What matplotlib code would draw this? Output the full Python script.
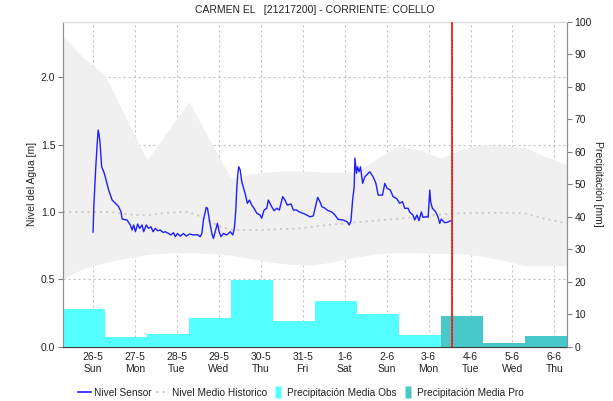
import numpy as np
import pandas as pd
import matplotlib
matplotlib.use("Agg")
import matplotlib.pyplot as plt
from matplotlib.lines import Line2D
from matplotlib.path import Path

plt.rcParams["font.family"] = ["Liberation Sans", "DejaVu Sans"]

# Reference instant: all hour offsets below are counted from here
T0 = pd.Timestamp("2024-05-26 00:00")
X_START = pd.Timestamp("2024-05-25 07:00")
X_END = pd.Timestamp("2024-06-06 07:00")
NOW = pd.Timestamp("2024-06-03 13:36")

TITLE = "CARMEN EL   [21217200] - CORRIENTE: COELLO"

# Sensor water level [m]
sensor_hours = [0.2, 0.6, 1.7, 2.5, 3.1, 3.7, 4.2, 4.6, 5.1, 6.3, 7.4, 9.1, 11.1, 13.0, 14.8,
                16.2, 16.8, 19.6, 21.5, 22.5, 23.4, 24.4, 25.7, 26.8, 28.2, 29.1, 30.6, 31.9,
                33.3, 34.5, 35.8, 37.1, 38.6, 40.2, 41.5, 43.4, 44.7, 46.2, 47.2, 48.5, 50.0,
                51.9, 53.5, 55.3, 57.6, 59.9, 61.4, 62.4, 63.3, 64.9, 65.6, 66.7, 68.1, 69.0,
                70.0, 71.3, 72.3, 73.3, 74.7, 76.7, 78.6, 80.1, 81.0, 81.8, 82.4, 83.0, 83.5,
                84.3, 85.2, 87.1, 88.4, 89.6, 90.9, 92.2, 93.8, 95.7, 96.6, 98.0, 99.5, 100.4,
                102.3, 103.7, 105.2, 106.7, 108.6, 109.9, 111.2, 113.4, 114.7, 116.6, 118.1,
                121.3, 124.2, 126.1, 127.6, 128.6, 129.9, 131.0, 132.8, 134.6, 136.6, 138.5,
                140.3, 143.2, 145.5, 146.6, 147.6, 148.6, 149.5, 149.9, 150.8, 151.4, 152.3,
                153.1, 154.3, 155.6, 158.4, 160.3, 161.9, 163.2, 165.7, 167.0, 168.3, 170.2,
                171.7, 173.7, 175.5, 177.1, 178.4, 180.3, 181.2, 183.1, 184.1, 185.4, 186.5,
                187.9, 188.8, 190.8, 191.8, 192.7, 193.2, 194.2, 196.1, 197.4, 198.4, 199.3,
                201.2, 202.5, 204.1, 205.2]
sensor_level = [0.851, 1.034, 1.323, 1.496, 1.607, 1.570, 1.509, 1.435, 1.335, 1.298, 1.249,
                1.162, 1.088, 1.064, 1.039, 1.000, 0.947, 0.940, 0.903, 0.866, 0.903, 0.853,
                0.910, 0.878, 0.903, 0.853, 0.903, 0.878, 0.890, 0.853, 0.878, 0.860, 0.866,
                0.848, 0.853, 0.840, 0.829, 0.846, 0.816, 0.840, 0.820, 0.840, 0.820, 0.836,
                0.829, 0.831, 0.816, 0.840, 0.940, 1.034, 1.027, 0.940, 0.840, 0.804, 0.853,
                0.915, 0.853, 0.816, 0.840, 0.829, 0.853, 0.829, 0.878, 1.014, 1.187, 1.286,
                1.335, 1.311, 1.224, 1.138, 1.064, 1.088, 1.051, 1.027, 0.990, 0.977, 0.953,
                1.014, 1.027, 1.088, 1.039, 1.009, 1.027, 1.014, 1.113, 1.088, 1.051, 1.059,
                1.014, 1.014, 1.000, 0.984, 0.964, 0.970, 1.051, 1.108, 1.076, 1.039, 1.027,
                1.009, 1.000, 0.977, 0.945, 0.940, 0.927, 0.903, 0.930, 1.088, 1.187, 1.400,
                1.286, 1.335, 1.298, 1.335, 1.212, 1.261, 1.298, 1.261, 1.212, 1.125, 1.125,
                1.212, 1.175, 1.162, 1.113, 1.100, 1.064, 1.076, 1.027, 1.027, 1.000, 0.977,
                0.940, 0.977, 0.935, 1.000, 0.960, 0.964, 0.960, 1.162, 1.076, 1.027, 1.000,
                0.964, 0.915, 0.947, 0.920, 0.922, 0.932, 0.932]

# Historical mean level [m]
mean_hours = [-17, 10.1, 18.7, 25.3, 32.9, 42.4, 53.9, 59.6, 67.1, 72.9, 80.4, 95.7, 118.5,
              133.9, 158.4, 175.5, 192.6, 209.7, 232.5, 246.8, 258.2, 271]
mean_level = [1.000, 1.000, 0.985, 0.977, 0.977, 0.994, 1.000, 0.977, 0.927, 0.890, 0.866,
              0.866, 0.878, 0.903, 0.932, 0.950, 0.975, 0.990, 0.995, 0.990, 0.950, 0.915]

# Historical envelope (max / min) [m], every 12 h
band_hours = [-17, -5, 7, 19, 31, 43, 55, 67, 79, 91, 103, 115, 127, 139, 151, 163, 175,
              187, 199, 211, 223, 235, 247, 259, 271]
band_max = [2.30, 2.14, 2.015, 1.70, 1.385, 1.60, 1.818, 1.53, 1.249, 1.285, 1.30, 1.305,
            1.30, 1.29, 1.30, 1.40, 1.49, 1.46, 1.40, 1.465, 1.50, 1.49, 1.48, 1.41, 1.35]
band_min = [0.507, 0.582, 0.625, 0.655, 0.685, 0.695, 0.697, 0.692, 0.680, 0.650, 0.625,
            0.608, 0.606, 0.635, 0.665, 0.690, 0.697, 0.695, 0.693, 0.689, 0.670, 0.640,
            0.600, 0.600, 0.600]

# Daily precipitation [mm], days running 07:00 to 07:00
obs_start = pd.date_range("2024-05-25 07:00", periods=9, freq="D")
precip_obs = [11.5, 3.1, 3.9, 8.9, 20.6, 7.9, 14.2, 10.1, 3.6]
pro_start = pd.date_range("2024-06-03 07:00", periods=3, freq="D")
precip_pro = [9.4, 1.0, 3.2]

level_ticks = [0.0, 0.5, 1.0, 1.5, 2.0]
precip_ticks = list(range(0, 101, 10))


def to_time(hours):
    return T0 + pd.to_timedelta(np.asarray(hours, dtype=float), unit="h")


W, H = 613, 401
fig = plt.figure(figsize=(W / 100, H / 100), dpi=100)
ax = fig.add_axes([63 / W, 1 - 346.7 / H, (566.7 - 63) / W, (346.7 - 22) / H])
ax2 = ax.twinx()

txt = "#222222"
grid_c = "#c4c4c4"

# Envelope, mean and sensor on the level axis
ax.fill_between(to_time(band_hours), band_min, band_max, color="#f0f0f0", lw=0, zorder=1)
ax.plot(to_time(mean_hours), mean_level, color="#c8c8c8", lw=1.3,
        linestyle=(0, (1.2, 2.2)), zorder=3)
ax.plot(to_time(sensor_hours), sensor_level, color="#1f1fff", lw=1.0, zorder=4)

ax.set_xlim(X_START, X_END)
ax.set_ylim(0, 2.409)
ax.set_yticks(level_ticks)
ax.set_yticklabels([f"{v:.1f}" for v in level_ticks])

day_ticks = pd.date_range("2024-05-26", "2024-06-06", freq="D")
ax.set_xticks(day_ticks)
ax.set_xticklabels([f"{d.day}-{d.month}\n{d.strftime('%a')}" for d in day_ticks])

ax.grid(True, color=grid_c, linestyle=(0, (2, 2.5)), lw=0.8, zorder=0)
ax.set_axisbelow(True)

# Precipitation bars on the right axis
ax2.bar(obs_start, precip_obs, width=1.0, align="edge", color="#55ffff", lw=0, zorder=2)
ax2.bar(pro_start, precip_pro, width=1.0, align="edge", color="#48c8c8", lw=0, zorder=2)
ax2.axvline(NOW, color="#ff2020", lw=1.3, zorder=5)
ax2.axvline(NOW, color="#b00000", lw=0.6, linestyle=(0, (1, 3)), zorder=6)
ax2.set_ylim(0, 100)
ax2.set_yticks(precip_ticks)
ax2.set_xlim(X_START, X_END)

for a in (ax, ax2):
    a.tick_params(axis="y", labelsize=7.5, labelcolor=txt, length=3.5, width=0.8,
                  color="#808080", pad=2)
    a.tick_params(axis="x", labelsize=7.5, labelcolor=txt, length=0, pad=4)
    a.spines["left"].set_color("#909090")
    a.spines["right"].set_color("#909090")
    a.spines["top"].set_color("#d8d8d8")
    a.spines["bottom"].set_color("#404040")
    a.spines["bottom"].set_linestyle((0, (1, 1)))

ax.set_ylabel("Nivel del Agua [m]", fontsize=7.5, color=txt, labelpad=3)
ax2.set_ylabel("Precipitación [mm]", fontsize=7.5, color=txt, rotation=270, labelpad=8)
fig.text(315 / W, 1 - 10 / H, TITLE, ha="center", va="center", fontsize=7.5, color=txt)

# Legend
rect = Path([(-0.3, -0.5), (0.3, -0.5), (0.3, 0.5), (-0.3, 0.5), (-0.3, -0.5)],
            [Path.MOVETO, Path.LINETO, Path.LINETO, Path.LINETO, Path.CLOSEPOLY])
handles = [
    Line2D([], [], color="#1f1fff", lw=1.2),
    Line2D([], [], color="#c8c8c8", lw=1.3, linestyle=(0, (1.5, 2))),
    Line2D([], [], linestyle="none", marker=rect, markersize=8,
           markerfacecolor="#55ffff", markeredgecolor="none"),
    Line2D([], [], linestyle="none", marker=rect, markersize=8,
           markerfacecolor="#48c8c8", markeredgecolor="none"),
]
labels = ["Nivel Sensor", "Nivel Medio Historico", "Precipitación Media Obs",
          "Precipitación Media Pro"]
fig.legend(handles, labels, loc="center", bbox_to_anchor=(301 / W, 1 - 392.5 / H),
           ncol=4, frameon=False, fontsize=7.3, handlelength=1.3, handletextpad=0.3,
           columnspacing=0.4, labelcolor=txt)

fig.savefig("out.png", dpi=100)
